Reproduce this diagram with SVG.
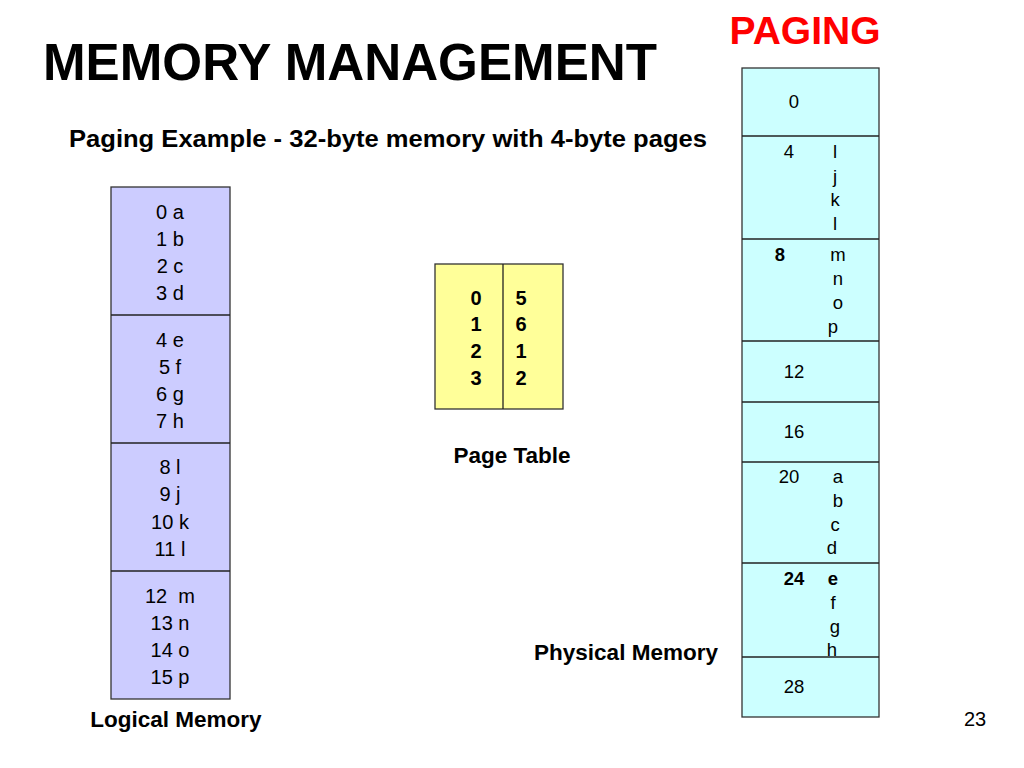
<svg xmlns="http://www.w3.org/2000/svg" width="1024" height="768" viewBox="0 0 1024 768">
<style>
text{font-family:"Liberation Sans",Arial,sans-serif;fill:#000}
.b{font-weight:bold}
.m{font-size:20px;text-anchor:middle}
.p{font-size:18.5px}
.lbl{font-size:22.5px;font-weight:bold;text-anchor:middle}
.box{stroke:#333;stroke-width:1.3}
.ln{stroke:#222;stroke-width:1.3}
</style>
<rect width="1024" height="768" fill="#fff"/>
<text x="43" y="80" class="b" font-size="51" textLength="614" lengthAdjust="spacingAndGlyphs">MEMORY MANAGEMENT</text>
<text x="805" y="44" class="b" font-size="39" text-anchor="middle" style="fill:#ff0000">PAGING</text>
<text x="69" y="147" class="b" font-size="23.5" textLength="638" lengthAdjust="spacingAndGlyphs">Paging Example - 32-byte memory with 4-byte pages</text>

<g id="logical-memory">
<rect x="111" y="187" width="119" height="512" fill="#ccccff" class="box"/>
<line x1="111" y1="315" x2="230" y2="315" class="ln"/>
<line x1="111" y1="443" x2="230" y2="443" class="ln"/>
<line x1="111" y1="571" x2="230" y2="571" class="ln"/>
<text class="m" x="170" y="219">0 a</text>
<text class="m" x="170" y="246">1 b</text>
<text class="m" x="170" y="273">2 c</text>
<text class="m" x="170" y="300">3 d</text>
<text class="m" x="170" y="347">4 e</text>
<text class="m" x="170" y="374">5 f</text>
<text class="m" x="170" y="401">6 g</text>
<text class="m" x="170" y="428">7 h</text>
<text class="m" x="170" y="474">8 l</text>
<text class="m" x="170" y="501">9 j</text>
<text class="m" x="170" y="529">10 k</text>
<text class="m" x="170" y="556">11 l</text>
<text class="m" x="170" y="603" xml:space="preserve">12  m</text>
<text class="m" x="170" y="630">13 n</text>
<text class="m" x="170" y="657">14 o</text>
<text class="m" x="170" y="684">15 p</text>
<text x="176" y="727" class="lbl">Logical Memory</text>
</g>

<g id="page-table">
<rect x="435" y="264" width="128" height="145" fill="#ffff99" class="box"/>
<line x1="503" y1="264" x2="503" y2="409" class="ln"/>
<text class="m b" x="476" y="305">0</text>
<text class="m b" x="476" y="331">1</text>
<text class="m b" x="476" y="358">2</text>
<text class="m b" x="476" y="385">3</text>
<text class="m b" x="521" y="305">5</text>
<text class="m b" x="521" y="331">6</text>
<text class="m b" x="521" y="358">1</text>
<text class="m b" x="521" y="385">2</text>
<text x="512" y="463" class="lbl">Page Table</text>
</g>

<g id="physical-memory">
<rect x="742" y="68" width="137" height="649" fill="#ccffff" class="box"/>
<line x1="742" y1="136" x2="879" y2="136" class="ln"/>
<line x1="742" y1="239" x2="879" y2="239" class="ln"/>
<line x1="742" y1="341" x2="879" y2="341" class="ln"/>
<line x1="742" y1="402" x2="879" y2="402" class="ln"/>
<line x1="742" y1="462" x2="879" y2="462" class="ln"/>
<line x1="742" y1="563" x2="879" y2="563" class="ln"/>
<line x1="742" y1="657" x2="879" y2="657" class="ln"/>
<g class="p" text-anchor="middle">
<text x="794" y="108">0</text>
<text x="789" y="158">4</text>
<text x="835" y="158">l</text>
<text x="835" y="183">j</text>
<text x="835" y="206">k</text>
<text x="835" y="230">l</text>
<text x="780" y="261" class="b">8</text>
<text x="838" y="261">m</text>
<text x="838" y="285">n</text>
<text x="838" y="309">o</text>
<text x="833" y="333">p</text>
<text x="794" y="378">12</text>
<text x="794" y="438">16</text>
<text x="789" y="483">20</text>
<text x="838" y="483">a</text>
<text x="838" y="507">b</text>
<text x="835" y="531">c</text>
<text x="832" y="554">d</text>
<text x="794" y="585" class="b">24</text>
<text x="833" y="585" class="b">e</text>
<text x="833" y="609">f</text>
<text x="835" y="633">g</text>
<text x="832" y="656">h</text>
<text x="794" y="693">28</text>
</g>
<text x="626" y="660" class="lbl">Physical Memory</text>
</g>

<text x="975" y="726" font-size="20" text-anchor="middle">23</text>
</svg>
